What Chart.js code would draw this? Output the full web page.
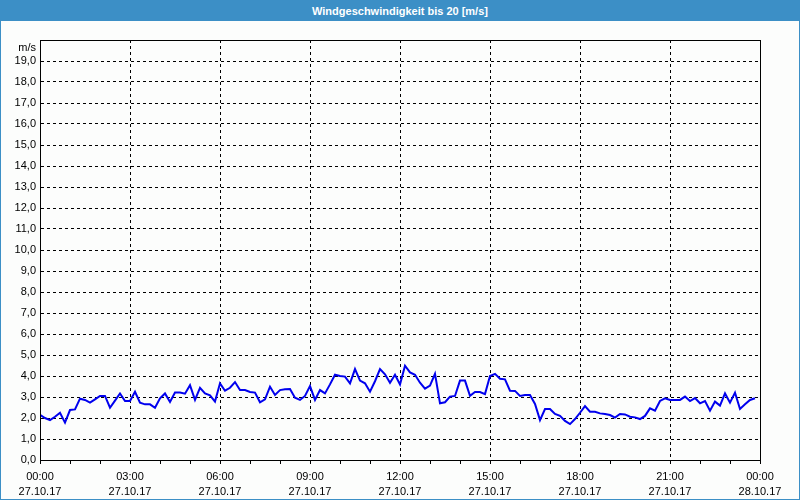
<!DOCTYPE html>
<html>
<head>
<meta charset="utf-8">
<script src="https://cdn.jsdelivr.net/npm/chart.js@4/dist/chart.umd.min.js"></script>
<style>
  html, body { margin: 0; padding: 0; background: #fff; }
  #wrap { width: 800px; height: 500px; box-sizing: border-box; border: 1px solid #3c8fc6; background: #fcfdfc; position: relative; }
  #title { height: 20px; background: #3c8fc6; color: #fff; font: bold 11px "Liberation Sans", "DejaVu Sans", sans-serif; text-align: center; line-height: 20px; }
  #c { display: block; }
</style>
</head>
<body>
<div id="wrap">
  <div id="title">Windgeschwindigkeit bis 20 [m/s]</div>
  <canvas id="c" width="798" height="478"></canvas>
</div>
<script>
// wind speed in m/s, one reading every 10 minutes from 00:00 to 23:50 on 27.10.17
const windSpeed = [
  2.15, 2.00, 1.90, 2.06, 2.25, 1.78, 2.38, 2.41, 2.92, 2.86, 2.73, 2.89,
  3.05, 3.05, 2.49, 2.83, 3.17, 2.81, 2.81, 3.25, 2.73, 2.65, 2.65, 2.49,
  2.94, 3.17, 2.76, 3.21, 3.21, 3.16, 3.56, 2.86, 3.44, 3.17, 3.08, 2.78,
  3.65, 3.30, 3.44, 3.71, 3.33, 3.33, 3.24, 3.21, 2.75, 2.89, 3.49, 3.10,
  3.33, 3.37, 3.38, 2.97, 2.86, 3.05, 3.52, 2.86, 3.33, 3.17, 3.60, 4.06,
  4.00, 3.97, 3.65, 4.33, 3.78, 3.65, 3.25, 3.75, 4.33, 4.08, 3.68, 4.06,
  3.60, 4.49, 4.17, 4.06, 3.68, 3.40, 3.54, 4.10, 2.70, 2.75, 3.02, 3.05,
  3.78, 3.78, 3.06, 3.24, 3.24, 3.14, 4.00, 4.10, 3.87, 3.84, 3.30, 3.29,
  3.05, 3.10, 3.10, 2.67, 1.90, 2.43, 2.43, 2.19, 2.10, 1.86, 1.71, 1.95,
  2.25, 2.57, 2.30, 2.30, 2.22, 2.19, 2.14, 2.02, 2.19, 2.17, 2.06, 2.03,
  1.95, 2.10, 2.46, 2.35, 2.81, 2.94, 2.86, 2.86, 2.86, 3.02, 2.81, 2.95,
  2.70, 2.81, 2.35, 2.78, 2.59, 3.17, 2.73, 3.21, 2.43, 2.65, 2.86, 2.94
];
const sampleMinutes = 10;           // interval between readings
const timeTickLabels = ["00:00","03:00","06:00","09:00","12:00","15:00","18:00","21:00","00:00"];
const dateTickLabels = ["27.10.17","27.10.17","27.10.17","27.10.17","27.10.17","27.10.17","27.10.17","27.10.17","28.10.17"];
const yUnit = "m/s";
const yMax = 20;

const points = windSpeed.map((v, i) => ({ x: i * sampleMinutes, y: v }));
const FONT = "'Liberation Sans', 'DejaVu Sans', sans-serif";

const framePlugin = {
  id: 'frame',
  afterDraw(chart) {
    const { ctx, chartArea: a } = chart;
    ctx.save();
    ctx.strokeStyle = '#000';
    ctx.lineWidth = 1;
    ctx.setLineDash([]);
    ctx.strokeRect(Math.round(a.left) + 0.5, Math.round(a.top) + 0.5, Math.round(a.right - a.left), Math.round(a.bottom - a.top));
    ctx.fillStyle = '#000';
    ctx.font = "11px " + FONT;
    ctx.textAlign = 'right';
    ctx.textBaseline = 'middle';
    ctx.fillText(yUnit, a.left - 4, a.top + 8);
    ctx.restore();
  }
};

new Chart(document.getElementById('c'), {
  type: 'line',
  data: {
    datasets: [{
      data: points,
      borderColor: '#0000ee',
      borderWidth: 2,
      pointRadius: 0,
      tension: 0,
      fill: false
    }]
  },
  options: {
    responsive: false,
    animation: false,
    parsing: true,
    layout: { padding: { left: 0, right: 39, top: 19, bottom: 0 } },
    plugins: { legend: { display: false }, title: { display: false }, tooltip: { enabled: false } },
    scales: {
      x: {
        type: 'linear',
        min: 0,
        max: 1440,
        afterBuildTicks(s) {
          const t = [];
          for (let m = 0; m <= 1440; m += 60) t.push({ value: m });
          s.ticks = t;
        },
        afterFit(s) { s.height = 39; s.paddingLeft = 0; s.paddingRight = 0; },
        ticks: {
          autoSkip: false,
          maxRotation: 0,
          minRotation: 0,
          padding: 5,
          color: '#000',
          font: { family: FONT, size: 11, lineHeight: 1.4 },
          callback(v) {
            if (v % 180 !== 0) return '';
            const k = v / 180;
            return [timeTickLabels[k], dateTickLabels[k]];
          }
        },
        grid: {
          color(ctx) {
            const v = ctx.tick && ctx.tick.value;
            return (v % 180 === 0 && v !== 0 && v !== 1440) ? '#000' : 'rgba(0,0,0,0)';
          },
          tickColor: '#000',
          tickLength: 4,
          lineWidth: 1
        },
        border: { display: true, color: '#000', dash: [3, 3] }
      },
      y: {
        min: 0,
        max: yMax,
        afterBuildTicks(s) {
          const t = [];
          for (let v = 0; v <= yMax; v += 1) t.push({ value: v });
          s.ticks = t;
        },
        afterFit(s) { s.width = 39; s.paddingTop = 0; s.paddingBottom = 0; },
        ticks: {
          autoSkip: false,
          padding: 4,
          color: '#000',
          font: { family: FONT, size: 11 },
          callback(v) { return v >= yMax ? '' : v.toFixed(1).replace('.', ','); }
        },
        grid: {
          drawTicks: false,
          color(ctx) {
            const v = ctx.tick && ctx.tick.value;
            return (v > 0 && v < yMax) ? '#000' : 'rgba(0,0,0,0)';
          },
          lineWidth: 1
        },
        border: { display: true, color: '#000', dash: [3, 3] }
      }
    }
  },
  plugins: [framePlugin]
});
</script>
</body>
</html>
